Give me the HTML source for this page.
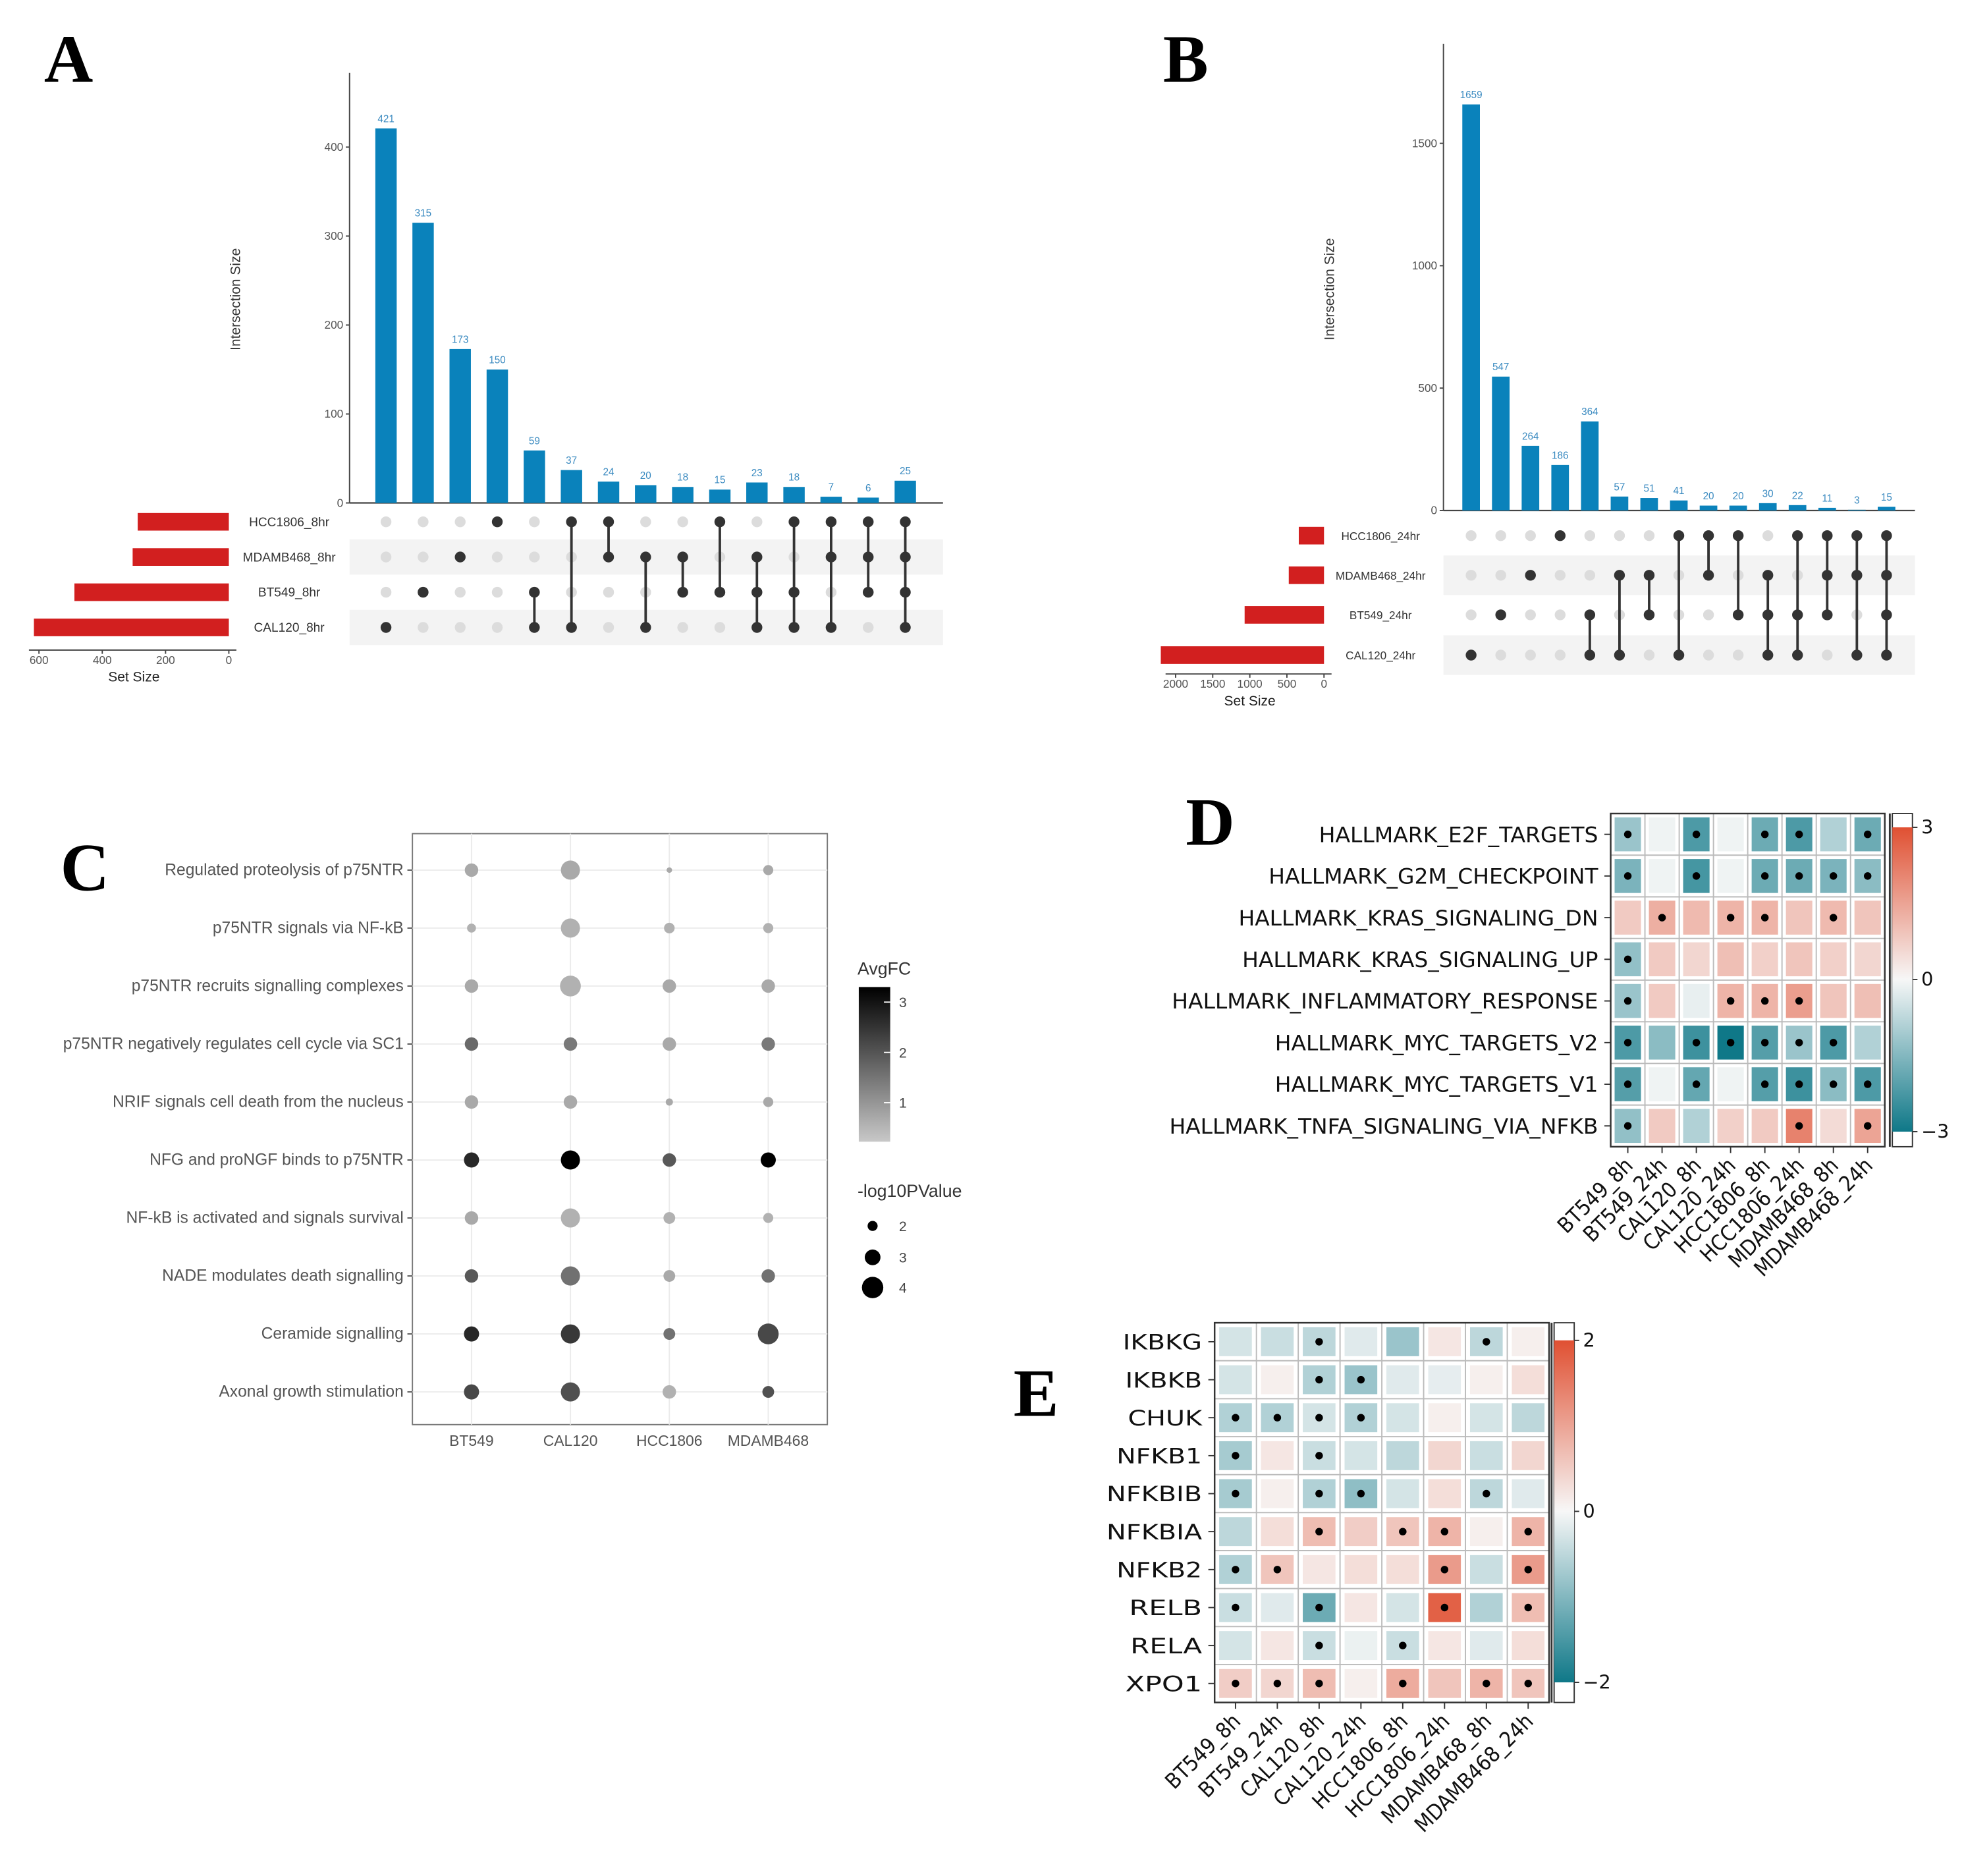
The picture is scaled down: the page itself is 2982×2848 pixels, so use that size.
<!DOCTYPE html>
<html><head><meta charset="utf-8"><style>
html,body{margin:0;padding:0;background:#fff;}
svg{display:block;font-family:"Liberation Sans",sans-serif;}
</style></head><body>
<svg id="fig" width="2982" height="2848" viewBox="0 0 1562 1492" preserveAspectRatio="none" xmlns="http://www.w3.org/2000/svg">
<g id="gA"></g>
<g id="gB"></g>
<g id="gC"></g>
<g id="gD"></g>
<g id="gE"></g>
</svg>
<script>
// ---------- DATA ----------
const setNamesA = ["HCC1806_8hr","MDAMB468_8hr","BT549_8hr","CAL120_8hr"];
const setSizesA = [288,304,488,616];
const interValsA = [421,315,173,150,59,37,24,20,18,15,23,18,7,6,25];
const interSetsA = [[3],[2],[1],[0],[2,3],[0,3],[0,1],[1,3],[1,2],[0,2],[1,2,3],[0,2,3],[0,1,3],[0,1,2],[0,1,2,3]];
const setNamesB = ["HCC1806_24hr","MDAMB468_24hr","BT549_24hr","CAL120_24hr"];
const setSizesB = [340,475,1070,2200];
const interValsB = [1659,547,264,186,364,57,51,41,20,20,30,22,11,3,15];
const interSetsB = [[3],[2],[1],[0],[2,3],[1,3],[1,2],[0,3],[0,1],[0,2],[1,2,3],[0,2,3],[0,1,2],[0,1,3],[0,1,2,3]];

const pathwaysC = ["Regulated proteolysis of p75NTR","p75NTR signals via NF-kB","p75NTR recruits signalling complexes","p75NTR negatively regulates cell cycle via SC1","NRIF signals cell death from the nucleus","NFG and proNGF binds to p75NTR","NF-kB is activated and signals survival","NADE modulates death signalling","Ceramide signalling","Axonal growth stimulation"];
const cellLinesC = ["BT549","CAL120","HCC1806","MDAMB468"];
const pvalC = [[2.6,3.6,1.2,2.0],[1.8,3.6,2.1,2.0],[2.6,3.9,2.6,2.6],[2.6,2.6,2.6,2.6],[2.6,2.6,1.5,2.0],[2.9,3.6,2.6,2.9],[2.6,3.6,2.3,2.0],[2.6,3.6,2.3,2.6],[2.9,3.6,2.3,3.9],[2.9,3.6,2.6,2.3]];
const fcC = [[1.2,1.2,1.2,1.2],[1.1,1.1,1.1,1.1],[1.2,1.1,1.2,1.2],[2.0,1.8,1.2,1.8],[1.2,1.2,1.2,1.2],[2.8,3.3,2.2,3.3],[1.2,1.1,1.1,1.1],[2.2,1.9,1.2,1.9],[2.8,2.6,1.9,2.4],[2.4,2.3,1.1,2.3]];

const rowsD = ["HALLMARK_E2F_TARGETS","HALLMARK_G2M_CHECKPOINT","HALLMARK_KRAS_SIGNALING_DN","HALLMARK_KRAS_SIGNALING_UP","HALLMARK_INFLAMMATORY_RESPONSE","HALLMARK_MYC_TARGETS_V2","HALLMARK_MYC_TARGETS_V1","HALLMARK_TNFA_SIGNALING_VIA_NFKB"];
const colsDE = ["BT549_8h","BT549_24h","CAL120_8h","CAL120_24h","HCC1806_8h","HCC1806_24h","MDAMB468_8h","MDAMB468_24h"];
const valsD = [[-1.2,-0.1,-2.2,-0.1,-1.8,-2.2,-0.9,-1.8],[-1.6,-0.1,-2.3,-0.1,-1.8,-1.8,-1.6,-1.4],[0.8,1.3,1.1,1.2,1.2,0.9,1.1,0.9],[-1.3,0.8,0.6,1.0,0.7,0.9,0.7,0.6],[-1.2,0.8,-0.2,1.2,1.2,1.6,0.9,1.0],[-2.2,-1.4,-2.4,-3.0,-2.1,-1.2,-2.2,-0.9],[-2.1,-0.1,-1.9,-0.1,-2.1,-2.4,-1.4,-2.2],[-1.3,0.8,-0.9,0.7,0.8,2.1,0.5,1.5]];
const sigD = [[1,0,1,0,1,1,0,1],[1,0,1,0,1,1,1,1],[0,1,0,1,1,0,1,0],[1,0,0,0,0,0,0,0],[1,0,0,1,1,1,0,0],[1,0,1,1,1,1,1,0],[1,0,1,0,1,1,1,1],[1,0,0,0,0,1,0,1]];
const rowsE = ["IKBKG","IKBKB","CHUK","NFKB1","NFKBIB","NFKBIA","NFKB2","RELB","RELA","XPO1"];
const valsE = [[-0.3,-0.4,-0.5,-0.2,-0.8,0.2,-0.5,0.1],[-0.3,0.1,-0.6,-0.8,-0.2,-0.15,0.1,0.3],[-0.6,-0.6,-0.3,-0.6,-0.3,0.1,-0.3,-0.5],[-0.7,0.2,-0.4,-0.3,-0.5,0.4,-0.4,0.4],[-0.7,0.1,-0.6,-0.9,-0.3,0.3,-0.5,-0.2],[-0.5,0.3,0.7,0.5,0.6,0.8,0.1,0.8],[-0.6,0.6,0.2,0.3,0.3,1.1,-0.4,1.1],[-0.4,-0.2,-1.2,0.2,-0.3,1.8,-0.6,0.7],[-0.3,0.2,-0.4,-0.1,-0.4,0.2,-0.2,0.3],[0.5,0.4,0.7,0.1,0.9,0.6,0.8,0.6]];
const sigE = [[0,0,1,0,0,0,1,0],[0,0,1,1,0,0,0,0],[1,1,1,1,0,0,0,0],[1,0,1,0,0,0,0,0],[1,0,1,1,0,0,1,0],[0,0,1,0,1,1,0,1],[1,1,0,0,0,1,0,1],[1,0,1,0,0,1,0,1],[0,0,1,0,1,0,0,0],[1,1,1,0,1,0,1,1]];

// ---------- helpers ----------
const NS="http://www.w3.org/2000/svg";
function mk(parent,tag,attrs,txt){const e=document.createElementNS(NS,tag);for(const k in attrs)e.setAttribute(k,attrs[k]);if(txt!==undefined)e.textContent=txt;parent.appendChild(e);return e;}
function lin(d0,d1,r0,r1){return v=>r0+(v-d0)/(d1-d0)*(r1-r0);}
function mix(a,b,t){return a.map((x,i)=>Math.round(x+(b[i]-x)*t));}
function div(v,m){const W=[247,247,247],R=[224,80,50],T=[15,120,136];const t=Math.max(-1,Math.min(1,v/m));const c=t>=0?mix(W,R,t):mix(W,T,-t);return `rgb(${c[0]},${c[1]},${c[2]})`;}
const svg=document.getElementById('fig');

// panel letters
[["A",35,65],["B",925,65],["C",48,708],["D",943,672],["E",806,1126]].forEach(([L,x,y])=>{
  const t=mk(svg,'text',{x:x,y:y,'font-family':'"Liberation Serif",serif','font-weight':'bold','font-size':54,fill:'#000'},L);
  
  
});

// ---------- UpSet ----------
function upset(g,cfg){
  const {names,sizes,vals,sets,x0,x1,yTop,yAxTop,y0,yMax,ticks,col0,colStep,barW,rows,setRight,setScale,setTicks,setAxisY,ylabX,ylabY,setLblX,fs}=cfg;
  const y=lin(0,yMax,y0,yTop);
  const rh=rows[1]-rows[0];
  [1,3].forEach(i=>{const r=mk(g,'rect',{x:x0,y:rows[i]-rh/2,width:x1-x0,height:rh,fill:'#f3f3f3'});
    });
  const ax=mk(g,'line',{x1:x0,y1:yAxTop,x2:x0,y2:y0,stroke:'#444','stroke-width':1});
  
  const bx=mk(g,'line',{x1:x0,y1:y0,x2:x1,y2:y0,stroke:'#444','stroke-width':1.2});
  
  ticks.forEach(tv=>{
    mk(g,'line',{x1:x0-3,x2:x0,y1:y(tv),y2:y(tv),stroke:'#444'});
    const t=mk(g,'text',{x:x0-5,y:y(tv)+3,'text-anchor':'end','font-size':9,fill:'#555'},tv);
    
  });
  const yl=mk(g,'text',{x:ylabX,y:ylabY,'text-anchor':'middle','font-size':11,fill:'#333',transform:`rotate(-90 ${ylabX} ${ylabY})`},'Intersection Size');
  
  vals.forEach((v,i)=>{
    const cx=col0+i*colStep;
    const b=mk(g,'rect',{x:cx-barW/2,y:y(v),width:barW,height:y0-y(v),fill:'#0a82bb'});
    
    const t=mk(g,'text',{x:cx,y:y(v)-5,'text-anchor':'middle','font-size':8,fill:'#3a8ac0'},v);
    
    const s=sets[i];
    rows.forEach((ry,r)=>{
      const d=mk(g,'circle',{cx:cx,cy:ry,r:4.3,fill:s.includes(r)?'#333':'#dcdcdc'});
      
    });
    if(s.length>1){const mn=Math.min(...s),mx=Math.max(...s);
      const l=mk(g,'line',{x1:cx,x2:cx,y1:rows[mn],y2:rows[mx],stroke:'#333','stroke-width':2});
      }
  });
  const sx=lin(0,setScale[0],setRight,setScale[1]);
  names.forEach((n,i)=>{
    const b=mk(g,'rect',{x:sx(sizes[i]),y:rows[i]-7,width:setRight-sx(sizes[i]),height:14,fill:'#d21f1f'});
    
    const t=mk(g,'text',{x:setLblX,y:rows[i]+3.5,'text-anchor':'middle','font-size':fs,fill:'#333'},n);
    
  });
  const sa=mk(g,'line',{x1:sx(setTicks[setTicks.length-1])-8,x2:setRight+6,y1:setAxisY,y2:setAxisY,stroke:'#444'});
  
  setTicks.forEach(tv=>{
    mk(g,'line',{x1:sx(tv),x2:sx(tv),y1:setAxisY,y2:setAxisY+3,stroke:'#444'});
    const t=mk(g,'text',{x:sx(tv),y:setAxisY+11,'text-anchor':'middle','font-size':9,fill:'#555'},tv);
    
  });
  const st=mk(g,'text',{x:(sx(setTicks[setTicks.length-1])+setRight)/2,y:setAxisY+25,'text-anchor':'middle','font-size':11,fill:'#222'},'Set Size');
  
}
upset(document.getElementById('gA'),{names:setNamesA,sizes:setSizesA,vals:interValsA,sets:interSetsA,x0:278,x1:750,yTop:117,yAxTop:58,y0:400,yMax:400,ticks:[0,100,200,300,400],col0:307,colStep:29.5,barW:17,rows:[415,443,471,499],setRight:182,setScale:[600,31],setTicks:[0,200,400,600],setAxisY:517,ylabX:191,ylabY:238,setLblX:230,fs:10});
upset(document.getElementById('gB'),{names:setNamesB,sizes:setSizesB,vals:interValsB,sets:interSetsB,x0:1148,x1:1523,yTop:114,yAxTop:35,y0:406,yMax:1500,ticks:[0,500,1000,1500],col0:1170,colStep:23.6,barW:14,rows:[426,457.5,489,521],setRight:1053,setScale:[2000,935],setTicks:[0,500,1000,1500,2000],setAxisY:536,ylabX:1061,ylabY:230,setLblX:1098,fs:9});

// ---------- Panel C ----------
(function(){
  const g=document.getElementById('gC');
  const bx=mk(g,'rect',{x:328,y:663,width:330,height:470,fill:'#fff',stroke:'#777','stroke-width':1});
  
  const xs=lin(0,3,375,611), ys=lin(0,9,692,1107);
  const rad=p=>lin(2,4,4,8.5)(p);
  const gray=f=>{const c=Math.round(lin(1,3.3,185,0)(Math.max(0.8,f)));return `rgb(${c},${c},${c})`;};
  cellLinesC.forEach((c,i)=>{mk(g,'line',{x1:xs(i),x2:xs(i),y1:663,y2:1133,stroke:'#ebebeb'});
    const t=mk(g,'text',{x:xs(i),y:1150,'text-anchor':'middle','font-size':12,fill:'#555'},c);
    });
  pathwaysC.forEach((p,j)=>{mk(g,'line',{x1:328,x2:658,y1:ys(j),y2:ys(j),stroke:'#ebebeb'});
    mk(g,'line',{x1:324,x2:328,y1:ys(j),y2:ys(j),stroke:'#555'});
    const t=mk(g,'text',{x:321,y:ys(j)+4,'text-anchor':'end','font-size':12.9,fill:'#555'},p);
    
    cellLinesC.forEach((c,i)=>{const d=mk(g,'circle',{cx:xs(i),cy:ys(j),r:rad(pvalC[j][i]),fill:gray(fcC[j][i])});
      });
  });
  const defs=mk(g,'defs',{});const lg=mk(defs,'linearGradient',{id:'gfc',x1:0,y1:0,x2:0,y2:1});
  mk(lg,'stop',{offset:0,'stop-color':'#000'});mk(lg,'stop',{offset:1,'stop-color':'#c8c8c8'});
  const t1=mk(g,'text',{x:682,y:775,'font-size':14,fill:'#333'},'AvgFC');
  const cb=mk(g,'rect',{x:683,y:785,width:25,height:123,fill:'url(#gfc)'});
  [[3,797],[2,837],[1,877]].forEach(([v,yy])=>{mk(g,'line',{x1:703,x2:708,y1:yy,y2:yy,stroke:'#fff'});
    const t=mk(g,'text',{x:715,y:yy+4,'font-size':11,fill:'#444'},v);});
  const t2=mk(g,'text',{x:682,y:952,'font-size':14,fill:'#333'},'-log10PValue');
  [[2,975],[3,1000],[4,1024]].forEach(([v,yy])=>{const c=mk(g,'circle',{cx:694,cy:yy,r:rad(v),fill:'#000'});
    const t=mk(g,'text',{x:715,y:yy+4,'font-size':11,fill:'#444'},v);});
})();

// ---------- heatmaps ----------
function heat(g,cfg){
  const {rows,cols,vals,sig,x0,x1,y0,y1,m,rw,rh,lblX,cbX,cbY0,cbY1,cbTicks,fs,lblLens}=cfg;
  const cw=(x1-x0)/cols.length, ch=(y1-y0)/rows.length;
  const cx=lin(0,cols.length-1,x0+cw/2,x1-cw/2), cy=lin(0,rows.length-1,y0+ch/2,y1-ch/2);
  mk(g,'rect',{x:x0,y:y0,width:x1-x0,height:y1-y0,fill:'#fff'});
  for(let i=1;i<cols.length;i++)mk(g,'line',{x1:x0+i*cw,x2:x0+i*cw,y1:y0,y2:y1,stroke:'#bbb','stroke-width':1});
  for(let j=1;j<rows.length;j++)mk(g,'line',{x1:x0,x2:x1,y1:y0+j*ch,y2:y0+j*ch,stroke:'#bbb','stroke-width':1});
  rows.forEach((r,j)=>{
    const t=mk(g,'text',{x:lblX,y:cy(j)+fs*0.36,'text-anchor':'end','font-size':fs,fill:'#111','font-family':'"DejaVu Sans Condensed","DejaVu Sans",sans-serif',textLength:lblLens[j],lengthAdjust:'spacingAndGlyphs'},r);
    
    mk(g,'line',{x1:x0-5,x2:x0,y1:cy(j),y2:cy(j),stroke:'#333'});
    cols.forEach((c,i)=>{
      const rc=mk(g,'rect',{x:cx(i)-rw/2,y:cy(j)-rh/2,width:rw,height:rh,fill:div(vals[j][i],m)});
      
      if(sig[j][i]){const d=mk(g,'circle',{cx:cx(i),cy:cy(j),r:3,fill:'#000'});}
    });
  });
  mk(g,'rect',{x:x0,y:y0,width:x1-x0,height:y1-y0,fill:'none',stroke:'#333','stroke-width':1.3});
  cols.forEach((c,i)=>{
    mk(g,'line',{x1:cx(i),x2:cx(i),y1:y1,y2:y1+5,stroke:'#333'});
    const ty=y1+16;
    const t=mk(g,'text',{x:cx(i)+5,y:ty,'text-anchor':'end','font-size':fs,fill:'#111','font-family':'"DejaVu Sans Condensed","DejaVu Sans",sans-serif',transform:`rotate(-45 ${cx(i)+5} ${ty})`},c);
    
  });
  const id='cb'+Math.round(x0);
  const defs=mk(g,'defs',{});const lg=mk(defs,'linearGradient',{id:id,x1:0,y1:0,x2:0,y2:1});
  [[0,m],[0.5,0],[1,-m]].forEach(([o,v])=>mk(lg,'stop',{offset:o,'stop-color':div(v,m)}));
  mk(g,'rect',{x:cbX,y:y0,width:16,height:y1-y0,fill:'#fff',stroke:'#333'});
  const cb=mk(g,'rect',{x:cbX,y:cbY0,width:16,height:cbY1-cbY0,fill:`url(#${id})`});
  
  mk(g,'line',{x1:cbX-2,x2:cbX-2,y1:y0,y2:y1,stroke:'#333','stroke-width':1.5});
  const cs=lin(m,-m,cbY0,cbY1);
  cbTicks.forEach(v=>{mk(g,'line',{x1:cbX+16,x2:cbX+20,y1:cs(v),y2:cs(v),stroke:'#333'});
    const t=mk(g,'text',{x:cbX+23,y:cs(v)+5,'font-size':fs-2,fill:'#111','font-family':'"DejaVu Sans",sans-serif'},v<0?'\u2212'+(-v):v);
    });
}
heat(document.getElementById('gD'),{rows:rowsD,cols:colsDE,vals:valsD,sig:sigD,x0:1281,x1:1499,y0:647,y1:912,m:3,rw:21,rh:27,lblX:1271,cbX:1505,cbY0:658,cbY1:900,cbTicks:[3,0,-3],fs:17,
  lblLens:[222,262,286,283,339,257,257,341]});
heat(document.getElementById('gE'),{rows:rowsE,cols:colsDE,vals:valsE,sig:sigE,x0:966,x1:1232,y0:1052,y1:1354,m:2,rw:26,rh:23,lblX:956,cbX:1236,cbY0:1066,cbY1:1338,cbTicks:[2,0,-2],fs:17,
  lblLens:[63,61,59,68,76,76,68,58,57,61]});
</script>
</body></html>
